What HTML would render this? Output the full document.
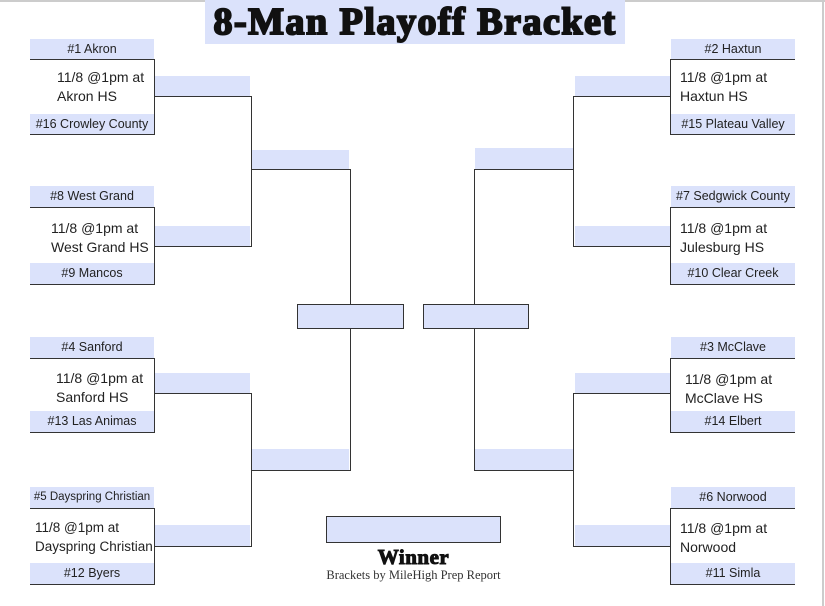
<!DOCTYPE html>
<html><head><style>
*{margin:0;padding:0;box-sizing:border-box}
body{width:825px;height:606px;background:#fff;position:relative;overflow:hidden;font-family:"Liberation Sans",sans-serif;color:#222}
div{position:absolute}
.f{background:#dbe2fb;font-size:12.5px;text-align:center;line-height:20px;white-space:nowrap}
.bl{border-top:1.5px solid #333;border-right:1.5px solid #333;border-bottom:1.5px solid #333}
.br{border-top:1.5px solid #333;border-left:1.5px solid #333;border-bottom:1.5px solid #333}
.t{font-size:14px;line-height:19px;white-space:nowrap}
.box{border:1.5px solid #333;background:#dbe2fb}
</style></head><body>
<div style="left:0;top:0;width:825px;height:2px;background:#ccc"></div>
<div style="left:822px;top:0;width:2px;height:606px;background:#ccc"></div>
<div style="left:205px;top:0;width:420px;height:44px;background:#dbe2fb;text-align:center;font-family:'Liberation Serif',serif;font-weight:900;font-size:38px;line-height:44px;color:#111;-webkit-text-stroke:2px #111;letter-spacing:1.5px;white-space:nowrap">8-Man Playoff Bracket</div>

<!-- left matches -->
<div class="f" style="left:30px;top:39px;width:124px;height:20px">#1 Akron</div>
<div class="bl" style="left:30px;top:59px;width:125px;height:76px"></div>
<div class="f" style="left:30px;top:114px;width:124px;height:20px">#16 Crowley County</div>
<div class="t" style="left:57px;top:68px">11/8 @1pm at<br>Akron HS</div>

<div class="f" style="left:30px;top:186px;width:124px;height:21px">#8 West Grand</div>
<div class="bl" style="left:30px;top:207px;width:125px;height:78px"></div>
<div class="f" style="left:30px;top:263px;width:124px;height:21px">#9 Mancos</div>
<div class="t" style="left:51px;top:219px">11/8 @1pm at<br>West Grand HS</div>

<div class="f" style="left:30px;top:337px;width:124px;height:21px">#4 Sanford</div>
<div class="bl" style="left:30px;top:358px;width:125px;height:75px"></div>
<div class="f" style="left:30px;top:411px;width:124px;height:21px">#13 Las Animas</div>
<div class="t" style="left:56px;top:369px">11/8 @1pm at<br>Sanford HS</div>

<div class="f" style="left:30px;top:487px;width:124px;height:21px;font-size:11.5px">#5 Dayspring Christian</div>
<div class="bl" style="left:30px;top:508px;width:125px;height:77px"></div>
<div class="f" style="left:30px;top:563px;width:124px;height:21px">#12 Byers</div>
<div class="t" style="left:35px;top:518px;font-size:13.5px">11/8 @1pm at<br>Dayspring Christian</div>

<!-- left round 2 -->
<div class="f" style="left:155px;top:76px;width:95px;height:21px"></div>
<div class="f" style="left:155px;top:226px;width:95px;height:20px"></div>
<div class="bl" style="left:155px;top:96px;width:97px;height:151px"></div>
<div class="f" style="left:155px;top:373px;width:95px;height:21px"></div>
<div class="f" style="left:155px;top:525px;width:95px;height:21px"></div>
<div class="bl" style="left:155px;top:393px;width:97px;height:154px"></div>
<!-- left QF -->
<div class="f" style="left:252px;top:150px;width:97px;height:20px"></div>
<div class="f" style="left:252px;top:449px;width:97px;height:21px"></div>
<div class="bl" style="left:251px;top:169px;width:100px;height:302px"></div>
<div class="box" style="left:297px;top:304px;width:107px;height:25px"></div>

<!-- right matches -->
<div class="f" style="left:671px;top:39px;width:124px;height:20px">#2 Haxtun</div>
<div class="br" style="left:670px;top:59px;width:125px;height:76px"></div>
<div class="f" style="left:671px;top:114px;width:124px;height:20px">#15 Plateau Valley</div>
<div class="t" style="left:680px;top:68px">11/8 @1pm at<br>Haxtun HS</div>

<div class="f" style="left:671px;top:186px;width:124px;height:21px">#7 Sedgwick County</div>
<div class="br" style="left:670px;top:207px;width:125px;height:78px"></div>
<div class="f" style="left:671px;top:263px;width:124px;height:21px">#10 Clear Creek</div>
<div class="t" style="left:680px;top:219px">11/8 @1pm at<br>Julesburg HS</div>

<div class="f" style="left:671px;top:337px;width:124px;height:21px">#3 McClave</div>
<div class="br" style="left:670px;top:358px;width:125px;height:75px"></div>
<div class="f" style="left:671px;top:411px;width:124px;height:21px">#14 Elbert</div>
<div class="t" style="left:685px;top:370px">11/8 @1pm at<br>McClave HS</div>

<div class="f" style="left:671px;top:487px;width:124px;height:21px">#6 Norwood</div>
<div class="br" style="left:670px;top:508px;width:125px;height:77px"></div>
<div class="f" style="left:671px;top:563px;width:124px;height:21px">#11 Simla</div>
<div class="t" style="left:680px;top:519px">11/8 @1pm at<br>Norwood</div>

<!-- right round 2 -->
<div class="f" style="left:575px;top:76px;width:95px;height:21px"></div>
<div class="f" style="left:575px;top:226px;width:95px;height:20px"></div>
<div class="br" style="left:573px;top:96px;width:98px;height:151px"></div>
<div class="f" style="left:575px;top:373px;width:95px;height:21px"></div>
<div class="f" style="left:575px;top:525px;width:95px;height:21px"></div>
<div class="br" style="left:573px;top:393px;width:98px;height:154px"></div>
<!-- right QF -->
<div class="f" style="left:475px;top:148px;width:98px;height:21px"></div>
<div class="f" style="left:475px;top:449px;width:98px;height:21px"></div>
<div class="br" style="left:474px;top:169px;width:100px;height:302px"></div>
<div class="box" style="left:423px;top:304px;width:106px;height:25px"></div>

<!-- winner -->
<div class="box" style="left:326px;top:516px;width:175px;height:27px"></div>
<div style="left:316px;top:545px;width:195px;text-align:center;font-family:'Liberation Serif',serif;font-weight:900;font-size:21px;line-height:24px;color:#111;-webkit-text-stroke:1px #111;letter-spacing:0.5px">Winner</div>
<div style="left:300px;top:568px;width:227px;text-align:center;font-family:'Liberation Serif',serif;font-size:12.5px;line-height:14px;color:#333">Brackets by MileHigh Prep Report</div>
</body></html>
